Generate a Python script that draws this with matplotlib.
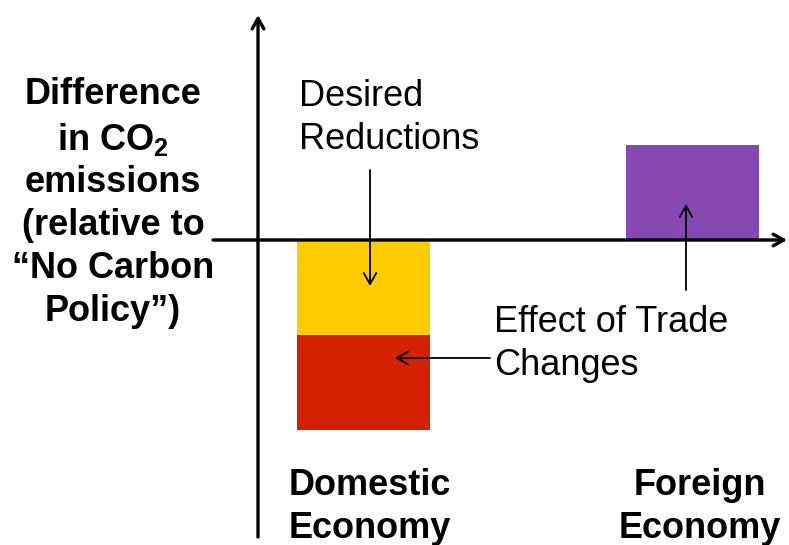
import matplotlib.pyplot as plt

plt.rcParams['font.family'] = ['Liberation Sans', 'DejaVu Sans']
plt.rcParams['mathtext.fontset'] = 'custom'
plt.rcParams['mathtext.rm'] = 'Liberation Sans:bold'
plt.rcParams['mathtext.it'] = 'Liberation Sans:bold'
plt.rcParams['mathtext.bf'] = 'Liberation Sans:bold'

# data (schematic units)
categories = ['Domestic\nEconomy', 'Foreign\nEconomy']
cat_pos = [1, 3]
desired_reduction = [-1.0, 0.0]
trade_effect = [-1.0, 1.0]

W, H = 789, 545
fig = plt.figure(figsize=(W / 100, H / 100), dpi=100)
ax = fig.add_axes([0, 0, 1, 1])

# pixel -> data mapping chosen so layout matches the reference
px_unit_x, px_unit_y = 164.5, 95.0
x0_px, y0_px = 363.5, 240.0
def dx(px):
    return 1 + (px - x0_px) / px_unit_x
def dy(py):
    return (y0_px - py) / px_unit_y

ax.set_xlim(dx(0), dx(W))
ax.set_ylim(dy(H), dy(0))
ax.axis('off')

bar_w = 0.81
# domestic: desired reduction on top, trade effect below
ax.bar(cat_pos[0], desired_reduction[0], width=bar_w, bottom=0,
       color='#FFCC00', zorder=2)
ax.bar(cat_pos[0], trade_effect[0], width=bar_w, bottom=desired_reduction[0],
       color='#D42100', zorder=2)
# foreign: trade effect only
ax.bar(cat_pos[1], trade_effect[1], width=bar_w, bottom=0,
       color='#8549B1', zorder=2)

# axes drawn as arrows
axis_kw = dict(arrowstyle='->,head_length=0.75,head_width=0.42', lw=2.4,
               color='black', shrinkA=0, shrinkB=0)
ax.annotate('', xy=(dx(258), dy(15)), xytext=(dx(258), dy(537)),
            arrowprops=axis_kw, zorder=3)
ax.annotate('', xy=(dx(787), 0), xytext=(dx(213), 0),
            arrowprops=axis_kw, zorder=3)

# pointer arrows
ptr_kw = dict(arrowstyle='->,head_length=0.8,head_width=0.45', lw=1.3,
              color='black', shrinkA=0, shrinkB=0)
ax.annotate('', xy=(dx(370), dy(286)), xytext=(dx(370), dy(170)),
            arrowprops=ptr_kw, zorder=4)
ax.annotate('', xy=(dx(395), dy(358)), xytext=(dx(490), dy(358)),
            arrowprops=ptr_kw, zorder=4)
ax.annotate('', xy=(dx(686), dy(204)), xytext=(dx(686), dy(290)),
            arrowprops=ptr_kw, zorder=4)

# texts
fs = 26
ls = 1.29
ax.text(dx(113), dy(203), 'Difference\nin CO$_2$\nemissions\n(relative to\n\u201cNo Carbon\nPolicy\u201d)',
        ha='center', va='center', multialignment='center',
        fontsize=fs, fontweight='bold', linespacing=ls)
ax.text(dx(299), dy(118), 'Desired\nReductions', ha='left', va='center',
        fontsize=fs, linespacing=ls)
ax.text(dx(494), dy(344), 'Effect of Trade\nChanges', ha='left', va='center',
        fontsize=fs, linespacing=ls)
ax.text(dx(370), dy(507), categories[0], ha='center', va='center',
        fontsize=fs, fontweight='bold', linespacing=ls)
ax.text(dx(700), dy(507), categories[1], ha='center', va='center',
        fontsize=fs, fontweight='bold', linespacing=ls)

fig.savefig('out.png', dpi=100)
